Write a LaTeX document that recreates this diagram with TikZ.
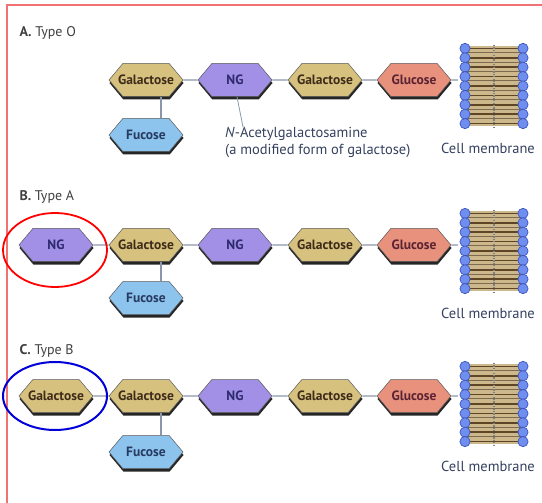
\documentclass[tikz,border=0pt]{standalone}
\usepackage{fontspec}
\setmainfont{PT Sans}
\usetikzlibrary{shapes.symbols,shadows,positioning}
\definecolor{galfill}{HTML}{D6C27E}
\definecolor{galtext}{HTML}{3F2B1A}
\definecolor{ngfill}{HTML}{A28FE6}
\definecolor{ngtext}{HTML}{2E2A6E}
\definecolor{fucfill}{HTML}{8CC4EE}
\definecolor{fuctext}{HTML}{283A60}
\definecolor{glcfill}{HTML}{E8917C}
\definecolor{glctext}{HTML}{5A2333}
\definecolor{linkgray}{HTML}{8A96AA}
\definecolor{captext}{HTML}{34405E}
\definecolor{headfill}{HTML}{6F8EEE}
\definecolor{headdraw}{HTML}{3B56C2}
\definecolor{tailfill}{HTML}{CDB88C}
\definecolor{taildark}{HTML}{5E4526}
\definecolor{frame}{HTML}{F07272}
\begin{document}
\begin{tikzpicture}[x=1pt,y=-1pt,
  hexa/.style={signal, signal to=east and west, signal pointer angle=100,
    draw=black!65, line width=0.5pt, minimum width=74pt, minimum height=33pt,
    inner ysep=0pt, inner xsep=-7pt, font=\bfseries\fontsize{13.5}{15}\selectfont,
    drop shadow={shadow xshift=0.5pt, shadow yshift=-3pt, fill=black!85, opacity=1}},
  gal/.style={hexa, fill=galfill, text=galtext},
  ng/.style={hexa, fill=ngfill, text=ngtext},
  fuc/.style={hexa, fill=fucfill, text=fuctext},
  glc/.style={hexa, fill=glcfill, text=glctext},
  link/.style={draw=linkgray, line width=1.2pt},
  head/.style={circle, fill=headfill, draw=headdraw, line width=0.7pt, minimum size=10.2pt, inner sep=0pt},
  membox/.style={minimum width=70pt, minimum height=86pt, inner sep=0pt},
  caption/.style={text=captext, font=\fontsize{14.5}{17}\selectfont},
  typelabel/.style={anchor=west, text=black!75, font=\fontsize{14}{16}\selectfont}]
\useasboundingbox (0,0) rectangle (542,503);
\draw[frame, line width=1.3pt] (7,503) -- (7,5) -- (542,5);

% membranes
\foreach \r/\my in {A/86,B/251,C/404}{
  \node[membox] (mem\r) at (493,\my) {};
  \fill[tailfill] (465,\my-40) rectangle (523,\my+40);
  \foreach \i in {0,...,8}{
    \draw[taildark, line width=1.6pt] (465,\my-37.6+\i*9.4) -- (523,\my-37.6+\i*9.4);
  }
  \foreach \i in {0,...,7}{
    \draw[taildark!80, line width=0.9pt] (465,\my-33.3+\i*9.4) -- (523,\my-33.3+\i*9.4);
  }
  \draw[black!50, line width=2pt, dash pattern=on 1.2pt off 1.2pt] (494,\my-41) -- (494,\my+41);
  \foreach \i in {0,...,8}{
    \node[head] at (465,\my-37.6+\i*9.4) {};
    \node[head] at (523,\my-37.6+\i*9.4) {};
  }
  \node[caption, below=10pt of mem\r, xshift=-5pt] {Cell membrane};
}

% A. Type O
\node[typelabel] (labA) at (16,33) {\textbf{A.}\ Type O};
\node[gal] (ga1) at (146,80) {Galactose};
\node[ng]  (ng1) at (235,80) {NG};
\node[gal] (gb1) at (325,80) {Galactose};
\node[glc] (gl1) at (414,80) {Glucose};
\node[fuc] (fu1) at (146,135) {Fucose};
\node[caption, anchor=north west, align=left, inner sep=0pt] (ann) at (225,127)
  {\textit{N}-Acetylgalactosamine\\(a modified form of galactose)};
\draw[link] (ga1) -- (ng1);
\draw[link] (ng1) -- (gb1);
\draw[link] (gb1) -- (gl1);
\draw[link] (gl1) -- (gl1 -| memA.west);
\draw[link] ([xshift=15pt]ga1.south) -- ([xshift=15pt]fu1.north);
\draw[linkgray, line width=0.8pt] ([xshift=2pt]ng1.south) -- ([xshift=18pt]ann.north west);

% B. Type A
\node[typelabel] (labB) at (16,197) {\textbf{B.}\ Type A};
\node[ng]  (ng0b) at (56,245) {NG};
\node[gal] (ga2) at (146,245) {Galactose};
\node[ng]  (ng2) at (235,245) {NG};
\node[gal] (gb2) at (325,245) {Galactose};
\node[glc] (gl2) at (414,245) {Glucose};
\node[fuc] (fu2) at (146,298) {Fucose};
\draw[link] (ng0b) -- (ga2);
\draw[link] (ga2) -- (ng2);
\draw[link] (ng2) -- (gb2);
\draw[link] (gb2) -- (gl2);
\draw[link] (gl2) -- (gl2 -| memB.west);
\draw[link] ([xshift=15pt]ga2.south) -- ([xshift=15pt]fu2.north);
\draw[red, line width=1.8pt] (55,250) ellipse [x radius=52, y radius=37];

% C. Type B
\node[typelabel] (labC) at (16,351) {\textbf{C.}\ Type B};
\node[gal] (ga0c) at (56,396) {Galactose};
\node[gal] (ga3) at (146,396) {Galactose};
\node[ng]  (ng3) at (235,396) {NG};
\node[gal] (gb3) at (325,396) {Galactose};
\node[glc] (gl3) at (414,396) {Glucose};
\node[fuc] (fu3) at (146,452) {Fucose};
\draw[link] (ga0c) -- (ga3);
\draw[link] (ga3) -- (ng3);
\draw[link] (ng3) -- (gb3);
\draw[link] (gb3) -- (gl3);
\draw[link] (gl3) -- (gl3 -| memC.west);
\draw[link] ([xshift=15pt]ga3.south) -- ([xshift=15pt]fu3.north);
\draw[blue!85!black, line width=2pt] (55,396) ellipse [x radius=52, y radius=34];
\end{tikzpicture}
\end{document}
